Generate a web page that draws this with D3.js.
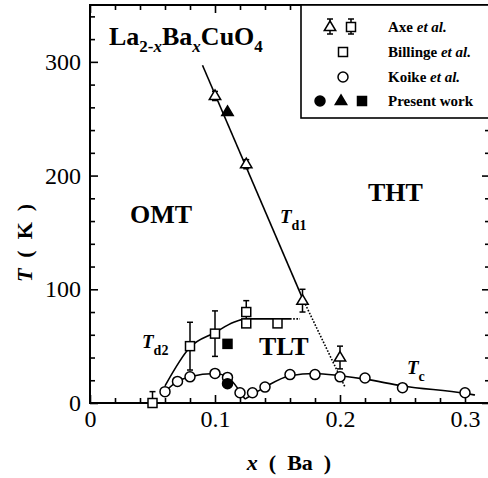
<!DOCTYPE html>
<html>
<head>
<meta charset="utf-8">
<script src="https://cdn.jsdelivr.net/npm/d3@7"></script>
<style>
  body { margin: 0; background: #fff; }
  svg text { font-family: "Liberation Serif", "Times New Roman", serif; white-space: pre; }
</style>
</head>
<body>
<svg id="chart"></svg>
<script>
// Axe et al. (open triangles / squares with error bars)
const axeTriX = [0.1, 0.125, 0.17, 0.2];
const axeTriT = [270, 210, 90, 40];
const axeTriErr = [4, 4, 10, 10];
const axeSqX = [0.05, 0.08, 0.1, 0.125];
const axeSqT = [0, 50, 61, 80];
const axeSqErr = [10, 21, 20, 10];
// Billinge et al.
const billingeX = [0.125, 0.15];
const billingeT = [70, 70];
// Koike et al. (Tc)
const koikeX = [0.06, 0.07, 0.08, 0.1, 0.11, 0.12, 0.13, 0.14, 0.16, 0.18, 0.2, 0.22, 0.25, 0.3];
const koikeT = [10, 19, 23, 26, 22.5, 9, 9, 14, 25, 25, 23, 22, 13.5, 9];
// Present work
const presentCircle = [0.11, 17];
const presentTri = [0.11, 256];
const presentSq = [0.11, 52];
// guide lines
const td1X = [0.09, 0.17], td1T = [297, 92];
const td1DotX = [0.17, 0.204], td1DotT = [92, 14];
const td2X = [0.06, 0.08, 0.1, 0.115, 0.125, 0.16], td2T = [15, 49, 62, 71, 74, 74];
const td2DotX = [0.16, 0.168], td2DotT = [74, 74];
const tcLeftX = [0.06, 0.07, 0.08, 0.1, 0.11, 0.12, 0.124], tcLeftT = [10, 19, 23, 26, 23, 10, 3.5];
const tcRightX = [0.124, 0.13, 0.14, 0.16, 0.18, 0.2, 0.22, 0.25, 0.3, 0.308], tcRightT = [3.5, 7.5, 14, 24, 26, 24, 21, 15, 8.5, 7];

const xTicks = d3.range(0, 17).map(i => +(i * 0.02).toFixed(2));
const xMajor = [0, 0.1, 0.2, 0.3];
const yTicks = d3.range(0, 18).map(i => i * 20);
const yMajor = [0, 100, 200, 300];

const width = 488, height = 478;
const svg = d3.select("#chart").attr("width", width).attr("height", height);

const x = d3.scaleLinear().domain([0, 0.32]).range([90, 490]);
const y = d3.scaleLinear().domain([0, 350]).range([403, 5]);

const zip = (xs, ys) => xs.map((v, i) => [v, ys[i]]);
const isMajorX = d => xMajor.some(m => Math.abs(m - d) < 1e-6);

// axes, ticks pointing inward on all sides
function styleAxis(g, majorTest) {
    g.attr("font-family", null);
    g.select(".domain").remove();
    g.selectAll(".tick line").attr("stroke", "#000").attr("stroke-width", 1.6);
    g.selectAll(".tick text").attr("fill", "#000").style("font-size", "24px");
    g.selectAll(".tick").filter(d => !majorTest(d)).select("text").remove();
}

const xAxisB = svg.append("g").attr("transform", `translate(0,${y(0)})`)
    .call(d3.axisBottom(x).tickValues(xTicks).tickSize(-5).tickPadding(7)
        .tickFormat(d => d === 0 ? "0" : d3.format(".1f")(d)));
styleAxis(xAxisB, isMajorX);
xAxisB.selectAll(".tick").filter(d => isMajorX(d)).select("line").attr("y2", -8);

const xAxisT = svg.append("g").attr("transform", `translate(0,${y(350)})`)
    .call(d3.axisTop(x).tickValues(xTicks).tickSize(-5).tickFormat(""));
styleAxis(xAxisT, () => false);
xAxisT.selectAll(".tick").filter(d => isMajorX(d)).select("line").attr("y2", 8);

const yAxisL = svg.append("g").attr("transform", `translate(${x(0)},0)`)
    .call(d3.axisLeft(y).tickValues(yTicks).tickSize(-5).tickPadding(9));
styleAxis(yAxisL, d => yMajor.includes(d));
yAxisL.selectAll(".tick").filter(d => yMajor.includes(d)).select("line").attr("x2", 8);

const yAxisR = svg.append("g").attr("transform", `translate(${x(0.32)},0)`)
    .call(d3.axisRight(y).tickValues(yTicks).tickSize(-5).tickFormat(""));
styleAxis(yAxisR, () => false);
yAxisR.selectAll(".tick").filter(d => yMajor.includes(d)).select("line").attr("x2", -8);

svg.append("rect")
    .attr("x", x(0)).attr("y", y(350))
    .attr("width", x(0.32) - x(0)).attr("height", y(0) - y(350))
    .attr("fill", "none").attr("stroke", "#000").attr("stroke-width", 2);

// lines
const line = d3.line().x(d => x(d[0])).y(d => y(d[1]));
const smooth = d3.line().x(d => x(d[0])).y(d => y(d[1])).curve(d3.curveMonotoneX);
const plot = svg.append("g");

function path(pts, gen, dash) {
    plot.append("path").attr("d", gen(pts))
        .attr("fill", "none").attr("stroke", "#000").attr("stroke-width", 1.6)
        .attr("stroke-dasharray", dash || null);
}
path(zip(td1X, td1T), line);
path(zip(td1DotX, td1DotT), line, "1.6,1.6");
path(zip(td2X, td2T), smooth);
path(zip(td2DotX, td2DotT), line, "1.6,1.6");
path(zip(tcLeftX, tcLeftT), smooth);
path(zip(tcRightX, tcRightT), smooth);

// markers
const triPath = (cx, cy, s) => `M${cx},${cy - s}L${cx + s * 0.95},${cy + s * 0.6}L${cx - s * 0.95},${cy + s * 0.6}Z`;

function errBar(g, cx, lo, hi) {
    g.append("line").attr("x1", cx).attr("x2", cx).attr("y1", lo).attr("y2", hi)
        .attr("stroke", "#000").attr("stroke-width", 1.5);
    [lo, hi].forEach(v => g.append("line").attr("x1", cx - 3).attr("x2", cx + 3)
        .attr("y1", v).attr("y2", v).attr("stroke", "#000").attr("stroke-width", 1.5));
}
function square(g, cx, cy, filled) {
    g.append("rect").attr("x", cx - 4.5).attr("y", cy - 4.5).attr("width", 9).attr("height", 9)
        .attr("fill", filled ? "#000" : "#fff").attr("stroke", "#000").attr("stroke-width", 1.5);
}
function circle(g, cx, cy, filled) {
    g.append("circle").attr("cx", cx).attr("cy", cy).attr("r", 5)
        .attr("fill", filled ? "#000" : "#fff").attr("stroke", "#000").attr("stroke-width", 1.5);
}
function triangle(g, cx, cy, filled) {
    g.append("path").attr("d", triPath(cx, cy, 6))
        .attr("fill", filled ? "#000" : "#fff").attr("stroke", "#000").attr("stroke-width", 1.5);
}

axeTriX.forEach((v, i) => {
    const t = axeTriT[i], e = axeTriErr[i];
    errBar(plot, x(v), y(Math.max(0, t - e)), y(t + e));
    triangle(plot, x(v), y(t), false);
});
axeSqX.forEach((v, i) => {
    const t = axeSqT[i], e = axeSqErr[i];
    if (t - e > 0) errBar(plot, x(v), y(t - e), y(t + e));
    else {
        plot.append("line").attr("x1", x(v)).attr("x2", x(v)).attr("y1", y(t)).attr("y2", y(t + e))
            .attr("stroke", "#000").attr("stroke-width", 1.5);
        plot.append("line").attr("x1", x(v) - 3).attr("x2", x(v) + 3).attr("y1", y(t + e)).attr("y2", y(t + e))
            .attr("stroke", "#000").attr("stroke-width", 1.5);
    }
    square(plot, x(v), y(t), false);
});
billingeX.forEach((v, i) => square(plot, x(v), y(billingeT[i]), false));
koikeX.forEach((v, i) => circle(plot, x(v), y(koikeT[i]), false));
circle(plot, x(presentCircle[0]), y(presentCircle[1]), true);
triangle(plot, x(presentTri[0]), y(presentTri[1]), true);
square(plot, x(presentSq[0]), y(presentSq[1]), true);

// legend
const leg = svg.append("g");
leg.append("rect").attr("x", 301).attr("y", y(350)).attr("width", 200).attr("height", 113)
    .attr("fill", "#fff").attr("stroke", "#000").attr("stroke-width", 1.6);
const rows = [27, 52, 77, 101];
errBar(leg, 330, rows[0] + 7, rows[0] - 8); triangle(leg, 330, rows[0], false);
errBar(leg, 351, rows[0] + 7, rows[0] - 8); square(leg, 351, rows[0], false);
square(leg, 343, rows[1], false);
circle(leg, 343, rows[2], false);
circle(leg, 320, rows[3], true);
triangle(leg, 341, rows[3], true);
square(leg, 362, rows[3], true);
const legNames = [["Axe ", "et al."], ["Billinge ", "et al."], ["Koike ", "et al."], ["Present work", ""]];
legNames.forEach((n, i) => {
    const t = leg.append("text").attr("x", 388).attr("y", rows[i] + 5)
        .style("font-size", "15px").style("font-weight", "bold");
    t.append("tspan").text(n[0]);
    if (n[1]) t.append("tspan").style("font-style", "italic").text(n[1]);
});

// title
const title = svg.append("text").attr("x", 109).attr("y", 45)
    .style("font-size", "26px").style("font-weight", "bold");
title.append("tspan").text("La");
title.append("tspan").attr("dy", 7).style("font-size", "17px").text("2-");
title.append("tspan").style("font-size", "17px").style("font-style", "italic").text("x");
title.append("tspan").attr("dy", -7).text("Ba");
title.append("tspan").attr("dy", 7).style("font-size", "17px").style("font-style", "italic").text("x");
title.append("tspan").attr("dy", -7).text("CuO");
title.append("tspan").attr("dy", 7).style("font-size", "17px").text("4");

// region labels
[["OMT", 130, 223], ["THT", 368, 201], ["TLT", 259, 355]].forEach(r => {
    svg.append("text").attr("x", r[1]).attr("y", r[2])
        .style("font-size", "26px").style("font-weight", "bold").text(r[0]);
});

// transition labels
[["d1", 280, 223], ["d2", 142, 348], ["c", 407, 374]].forEach(r => {
    const t = svg.append("text").attr("x", r[1]).attr("y", r[2]).style("font-weight", "bold");
    t.append("tspan").style("font-size", "19px").style("font-style", "italic").text("T");
    t.append("tspan").attr("dy", 7).style("font-size", "14px").text(r[0]);
});

// axis titles
const xl = svg.append("text").attr("x", 289).attr("y", 470).attr("text-anchor", "middle")
    .style("font-size", "22px").style("font-weight", "bold");
xl.append("tspan").style("font-style", "italic").text("x");
xl.append("tspan").text("  (  Ba  )");

const yl = svg.append("text").attr("transform", "translate(32,243) rotate(-90)")
    .attr("text-anchor", "middle").style("font-size", "22px").style("font-weight", "bold");
yl.append("tspan").style("font-style", "italic").text("T");
yl.append("tspan").text("  (  K  )");
</script>
</body>
</html>
